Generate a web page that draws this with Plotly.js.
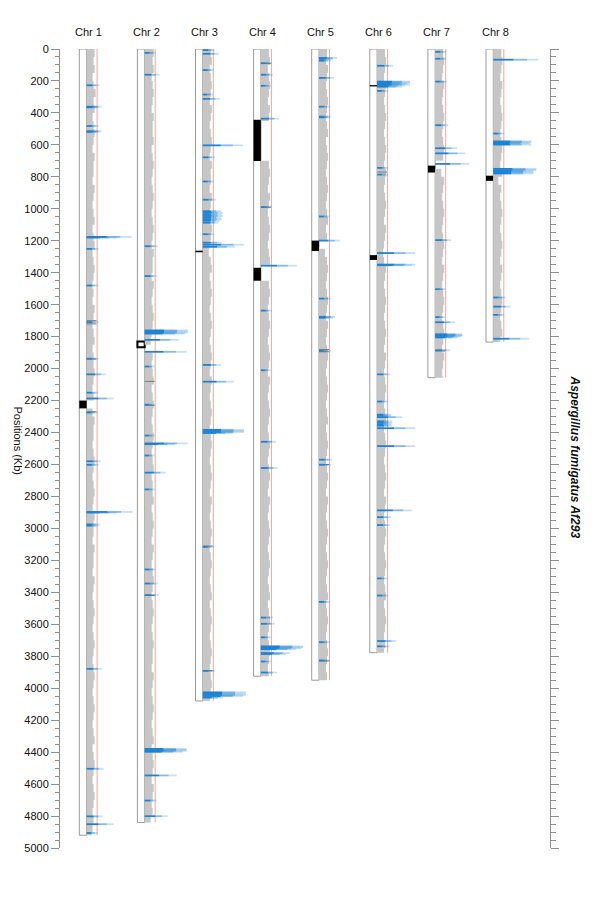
<!DOCTYPE html>
<html><head><meta charset="utf-8">
<script src="https://cdn.plot.ly/plotly-3.0.1.min.js"></script>
<style>html,body{margin:0;padding:0;background:#fff}#chart{width:600px;height:900px}</style>
</head><body><div id="chart"></div>
<script>
// ---------------- DATA ----------------
const chromosomes = ['Chr 1','Chr 2','Chr 3','Chr 4','Chr 5','Chr 6','Chr 7','Chr 8'];
const chrLengths = [4920, 4840, 4080, 3925, 3950, 3778, 2057, 1834];   // Kb

// centromere / gap blocks [chrIndex, start, end]
const cenChr   = [0,    1,    2,    3,   3,    4,    5,   5,    6,   7];
const cenStart = [2200, 1830, 1262, 443, 1369, 1199, 226, 1290, 730, 793];
const cenEnd   = [2249, 1866, 1272, 701, 1450, 1264, 234, 1320, 773, 825];
const cenOpen  = [false,true, false,false,false,false,false,false,false,false];

// gray density profile, one value per 50 Kb bin (px-like signal units)
const densityBin = 50;
const density1 = [8,7,8,6,7,9,7,8,6,7, 8,7,6,8,7,7,6,8,7,6, 7,8,6,7,8,6,7,8,7,6, 7,6,8,7,6,7,8,6,7,7,
                  8,7,6,7,0,6,8,7,7,6, 7,8,7,6,7,8,7,6,8,7, 7,6,8,7,7,6,8,7,6,7, 8,7,6,7,8,7,6,7,8,7,
                  6,7,8,7,6,7,8,6,7,8, 7,6,7,8,7,6,7,6,5];
const density2 = [9,8,9,7,8,9,8,7,9,8, 8,9,7,8,9,8,7,8,9,8, 7,8,9,8,7,9,8,8,7,9, 8,7,8,9,8,7,6,0,8,7,
                  8,9,7,8,9,8,7,8,9,8, 7,8,9,7,8,8,9,7,8,9, 8,7,9,8,7,8,9,8,7,8, 9,8,7,8,9,8,8,7,9,8,
                  7,8,9,8,7,8,9,7,8,9, 8,7,9,8,7,8,6];
const density3 = [8,9,7,8,9,8,7,9,8,7, 8,9,8,7,9,8,8,7,9,8, 7,8,9,8,7,6,8,9,7,8, 9,8,7,8,9,8,7,8,9,8,
                  7,9,8,7,8,9,8,7,8,9, 8,7,8,9,8,7,9,8,7,8, 9,8,7,8,9,8,7,8,9,7, 8,9,8,7,8,9,8,7,8,9,
                  8,7];
const density4 = [8,9,7,8,9,8,7,9,8,0, 0,0,0,0,8,9,8,7,9,8, 7,8,9,8,7,8,9,0,0,8, 9,8,7,8,9,8,7,8,9,8,
                  7,9,8,7,8,9,8,7,8,9, 8,7,8,9,8,7,9,8,7,8, 9,8,7,8,9,8,7,8,9,7, 8,9,8,7,8,9,8,7,8];
const density5 = [8,7,9,8,7,8,9,8,7,8, 9,7,8,9,8,7,8,9,8,7, 8,9,7,8,0,6,8,9,8,7, 8,9,8,7,9,8,7,8,9,8,
                  7,8,9,8,7,8,9,7,8,9, 8,7,8,9,8,7,9,8,7,8, 9,8,7,8,9,8,7,8,9,7, 8,9,8,7,8,9,8,7,8];
const density6 = [8,9,8,7,9,8,7,8,9,8, 7,8,9,8,7,9,8,7,8,9, 8,7,9,8,7,6,7,9,8,7, 8,9,8,7,8,9,8,7,9,8,
                  7,8,9,8,7,8,9,7,8,9, 8,7,8,9,8,7,9,8,7,8, 9,8,7,8,9,8,7,8,9,7, 8,9,8,7,8,7];
const density7 = [8,9,8,7,9,8,7,8,9,8, 7,8,9,8,0,6,9,8,7,8, 9,8,7,8,9,8,7,9,8,7, 8,9,8,7,8,9,8,7,9,8, 7,8];
const density8 = [8,9,8,7,9,8,7,8,9,8, 7,8,9,8,7,9,5,8,7,8, 9,8,7,8,9,8,7,9,8,7, 8,9,8,7,8,9,7];
const densities = [density1,density2,density3,density4,density5,density6,density7,density8];

// highlighted (blue) features: positions in Kb and signal lengths
const bluePos1 = [227,361,365,482,514,519,1176,1180,1251,1480,1709,1938,2036,2151,2187,2275,2580,2602,2897,2901,2975,2983,3879,4504,4802,4851,4906];
const blueLen1 = [13, 15, 12, 12, 15, 13, 45,  30,  12,  12,  12,  12,  19,  12,  27,  11,  14,  12,  46,  30,  13,  12,  15,  17,  16,  27,  11];
const bluePos2 = [24,161,1234,1421,1761,1768,1775,1781,1820,1895,1987,2226,2419,2468,2473,2544,2651,2756,3257,3345,3417,4380,4386,4392,4398,4546,4703,4801];
const blueLen2 = [11,15, 13,  12,  43,  43,  43,  40,  34,  42,  10,  10,  10,  43,  30,  10,  21,  10,  11,  13,  14,  42,  42,  42,  38,  32,  12,  23];
const bluePos3 = [7,30,132,285,312,603,678,829,943,1015,1025,1035,1045,1055,1065,1075,1087,1159,1212,1225,1238,1977,2082,2383,2390,2397,2403,3116,3892,4026,4034,4042,4049,4059];
const blueLen3 = [12,16,11,10,17, 40, 12, 11, 13, 18,  20,  19,  20,  18,  19,  17,  16,  11,  19,  41,  32,  18,  31,  41,  41,  41,  30,  11,  12,  43,  43,  43,  40,  20];
const bluePos4 = [89,161,230,436,989,1356,1637,2010,2458,2622,3558,3597,3682,3738,3744,3750,3756,3780,3786,3833,3902];
const blueLen4 = [11,12, 10, 18, 11, 36,  11,  10,  15,  17,  12,  14,  10,  42,  42,  40,  35,  29,  25,  10,  16];
const bluePos5 = [56,62,73,181,361,423,428,1048,1199,1562,1676,1682,1889,2570,2602,3460,3712,3826];
const blueLen5 = [18,14,12,15, 11, 12, 11, 11,  21,  12,  16,  14,  12,  13,  12,  11,  11,  11];
const bluePos6 = [105,204,210,216,222,228,236,262,744,786,1277,1349,1353,2036,2206,2288,2296,2304,2330,2340,2350,2357,2373,2485,2887,2930,2979,3313,3420,3705,3738];
const blueLen6 = [16, 33, 33, 30, 33, 28, 25, 11, 11, 11, 38,  38,  35,  13,  11,  14,  14,  25,  15,  15,  14,  15,  38,  38,  35,  14,  13,  10,  11,  19,  12];
const bluePos7 = [18,61,204,477,621,653,719,1196,1503,1678,1710,1785,1790,1795,1800,1805,1885];
const blueLen7 = [11,11,12, 13, 22, 30, 34, 16,  10,  10,  20,  27,  27,  27,  25,  22,  15];
const bluePos8 = [67,529,578,584,590,598,750,757,764,771,779,1555,1612,1664,1813];
const blueLen8 = [45,11, 38, 38, 36, 38, 43, 43, 40, 40, 40, 12,  17,  11,  36];
const bluePos = [bluePos1,bluePos2,bluePos3,bluePos4,bluePos5,bluePos6,bluePos7,bluePos8];
const blueLen = [blueLen1,blueLen2,blueLen3,blueLen4,blueLen5,blueLen6,blueLen7,blueLen8];

// darker gray marks inside the density band
const darkPos = [[1700,1720,1940,2270],[2080,2230,3420],[3110,3890],[90,990],[1880,1895,2600,3830],[770],[1890],[]];

const yTickValues = [0,200,400,600,800,1000,1200,1400,1600,1800,2000,2200,2400,2600,2800,3000,3200,3400,3600,3800,4000,4200,4400,4600,4800,5000];

// ---------------- LAYOUT GEOMETRY ----------------
const X0 = 79.3, STEP = 58.1, RECT_W = 7.3, THRESH = 10.5;
const rectLeft = i => X0 + STEP * i;
const baseX = i => rectLeft(i) + RECT_W;
const FONT = 'Liberation Sans, Arial, Helvetica, sans-serif';

const traces = [];

// chromosome bodies
traces.push({
  type: 'bar', x: chromosomes.map((c, i) => rectLeft(i) + RECT_W / 2), y: chrLengths, base: chrLengths.map(() => 0),
  width: RECT_W, marker: {color: '#ffffff', line: {color: '#9a9a9a', width: 1}}, hoverinfo: 'skip', showlegend: false
});

// gray density bands
densities.forEach((d, i) => {
  const b = baseX(i), L = chrLengths[i];
  const xs = [b], ys = [0];
  d.forEach((w, k) => { xs.push(b + w); ys.push(k * densityBin); });
  xs.push(b + d[d.length - 1]); ys.push(L);
  xs.push(b); ys.push(L);
  traces.push({type: 'scatter', mode: 'lines', x: xs, y: ys, fill: 'toself', fillcolor: '#c6c6c6',
    line: {width: 0, shape: 'vh', color: '#c6c6c6'}, hoverinfo: 'skip', showlegend: false});
});

// dark gray marks
{
  const xs = [], ys = [];
  darkPos.forEach((arr, i) => arr.forEach(p => { xs.push(baseX(i), baseX(i) + 10, null); ys.push(p, p, null); }));
  traces.push({type: 'scatter', mode: 'lines', x: xs, y: ys, line: {color: '#7a7a7a', width: 1}, hoverinfo: 'skip', showlegend: false});
}

// threshold (red) lines
{
  const xs = [], ys = [];
  chrLengths.forEach((L, i) => { xs.push(baseX(i) + THRESH, baseX(i) + THRESH, null); ys.push(0, L, null); });
  traces.push({type: 'scatter', mode: 'lines', x: xs, y: ys, line: {color: '#f4a59c', width: 1}, hoverinfo: 'skip', showlegend: false});
}

// blue features, drawn as fading segments
const fades = [[0, 0.45, 'rgba(28,132,214,1)'], [0.45, 0.75, 'rgba(28,132,214,0.55)'], [0.75, 1, 'rgba(28,132,214,0.25)']];
fades.forEach(([a, z, col]) => {
  const xs = [], ys = [];
  bluePos.forEach((arr, i) => arr.forEach((p, k) => {
    const L = blueLen[i][k], b = baseX(i);
    xs.push(b + a * L, b + z * L, null); ys.push(p, p, null);
  }));
  traces.push({type: 'scatter', mode: 'lines', x: xs, y: ys, line: {color: col, width: 1.8}, hoverinfo: 'skip', showlegend: false});
});

// centromeres
traces.push({
  type: 'bar', x: cenChr.map(c => rectLeft(c) + RECT_W / 2), y: cenEnd.map((e, k) => e - cenStart[k]), base: cenStart,
  width: RECT_W,
  marker: {color: cenOpen.map(o => o ? '#ffffff' : '#000000'), line: {color: '#000000', width: cenOpen.map(o => o ? 2 : 0)}},
  hoverinfo: 'skip', showlegend: false
});

// dummy trace for the right axis
traces.push({type: 'scatter', mode: 'markers', x: [0], y: [0], yaxis: 'y2', marker: {opacity: 0}, hoverinfo: 'skip', showlegend: false});

const annotations = chromosomes.map((c, i) => ({
  text: c, xref: 'x', yref: 'paper', x: rectLeft(i) + 9, y: 1 + 17 / 799, xanchor: 'center', yanchor: 'middle',
  showarrow: false, font: {family: FONT, size: 11, color: '#111'}
}));
annotations.push({text: 'Positions (Kb)', xref: 'paper', yref: 'paper', x: (18 - 60) / 490, y: 0.51, textangle: 90,
  showarrow: false, xanchor: 'center', yanchor: 'middle', font: {family: FONT, size: 11, color: '#111'}});
annotations.push({text: '<b><i>Aspergillus fumigatus Af293</i></b>', xref: 'paper', yref: 'paper', x: (575 - 60) / 490, y: 0.49, textangle: 90,
  showarrow: false, xanchor: 'center', yanchor: 'middle', font: {family: FONT, size: 12, color: '#111'}});

const axisCommon = {
  range: [5000, 0], autorange: false, tickmode: 'array', tickvals: yTickValues, ticks: 'outside', ticklen: 8, tickwidth: 1,
  tickcolor: '#8f8f8f', showline: true, linecolor: '#8f8f8f', linewidth: 1, showgrid: false, zeroline: false,
  minor: {dtick: 50, tick0: 0, ticks: 'outside', ticklen: 4, tickcolor: '#8f8f8f', tickwidth: 1, showgrid: false},
  fixedrange: true
};

const layout = {
  width: 600, height: 900, margin: {l: 60, r: 50, t: 49, b: 52}, paper_bgcolor: '#fff', plot_bgcolor: '#fff',
  barmode: 'overlay', showlegend: false, bargap: 0,
  xaxis: {range: [60, 550], visible: false, fixedrange: true},
  yaxis: Object.assign({}, axisCommon, {tickfont: {family: FONT, size: 11, color: '#111'}}),
  yaxis2: Object.assign({}, axisCommon, {overlaying: 'y', side: 'right', showticklabels: false,
    ticklen: 8, minor: {dtick: 50, tick0: 0, ticks: 'outside', ticklen: 5, tickcolor: '#8f8f8f', tickwidth: 1, showgrid: false}}),
  annotations: annotations
};

Plotly.newPlot('chart', traces, layout, {staticPlot: true, displayModeBar: false});
</script>
</body></html>
